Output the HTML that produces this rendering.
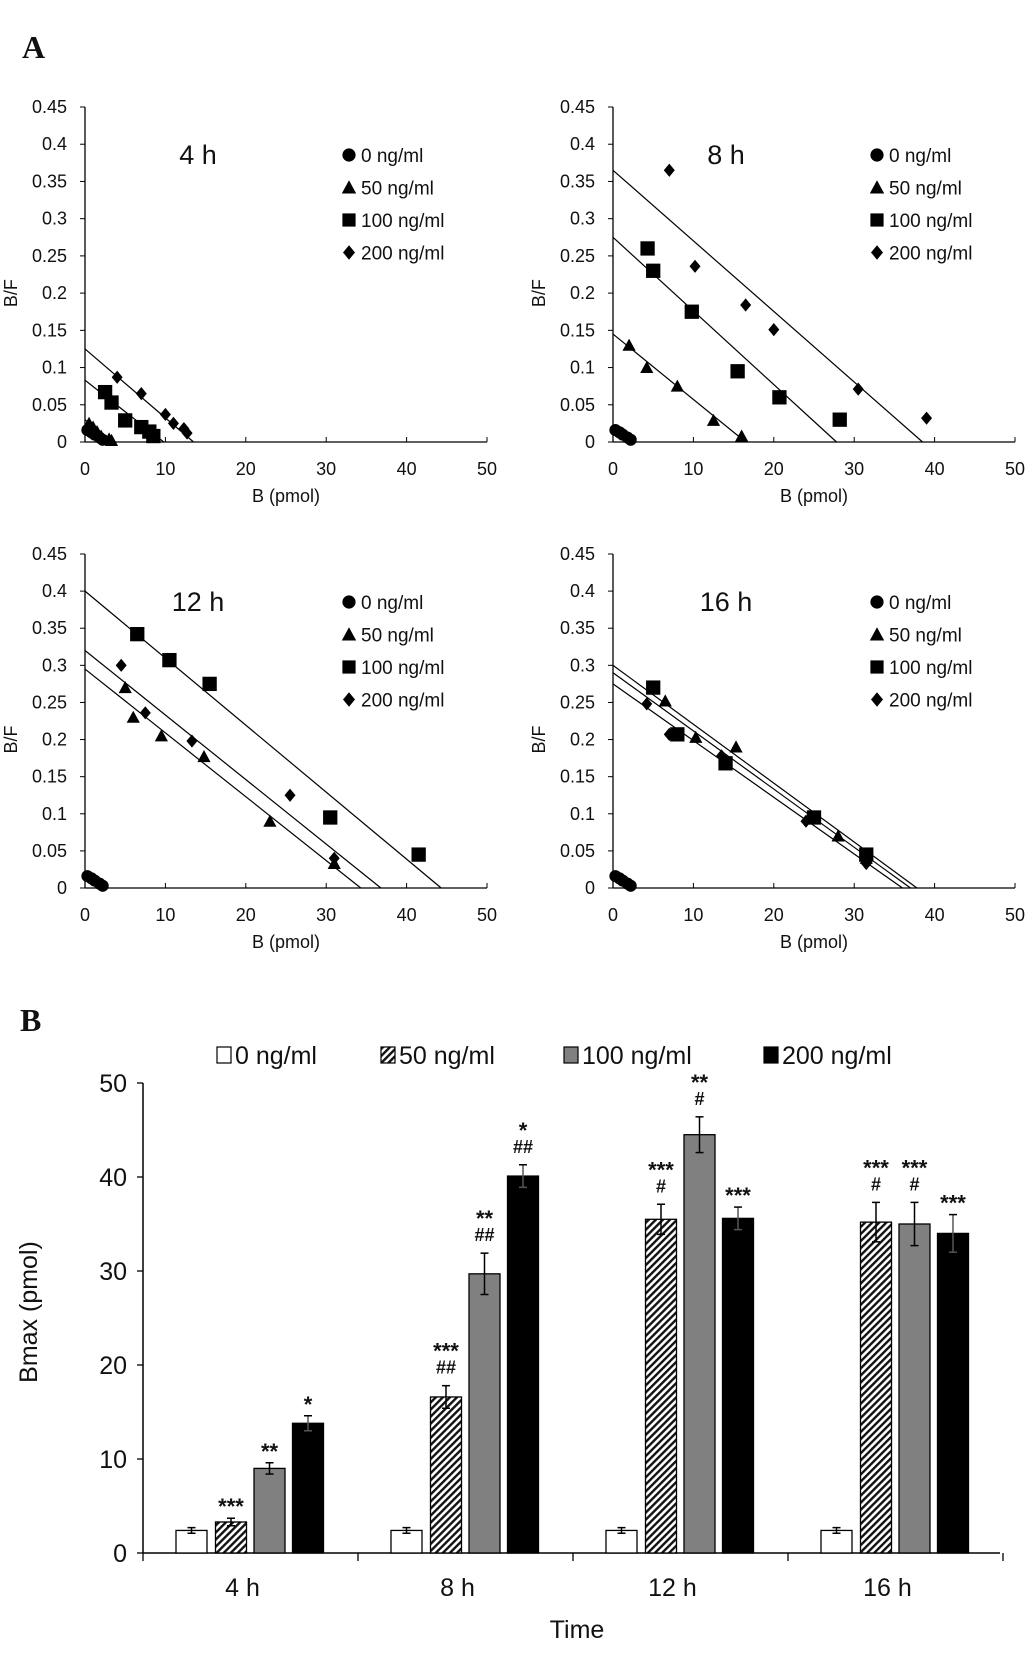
<!DOCTYPE html>
<html><head><meta charset="utf-8"><style>
html,body{margin:0;padding:0;background:#fff}
svg{display:block}
text{font-family:"Liberation Sans",Arial,sans-serif;fill:#111}
</style></head><body>
<svg id="fig" width="1033" height="1655" viewBox="0 0 1033 1655" xmlns="http://www.w3.org/2000/svg">
<defs>
<pattern id="hatch" patternUnits="userSpaceOnUse" width="5" height="5" patternTransform="rotate(45)">
<rect width="5" height="5" fill="#fff"/><rect width="2.4" height="5" fill="#111"/>
</pattern>
</defs>
<text x="22" y="58" style="font-family:'Liberation Serif',serif;font-weight:bold;font-size:32px">A</text>
<text x="20" y="1031" style="font-family:'Liberation Serif',serif;font-weight:bold;font-size:32px">B</text>
<g id="scatters"></g>
<g id="bars"></g>
</svg>
<script>
// ---------- Scatchard panels data ----------
const panelTitles = ["4 h","8 h","12 h","16 h"];
const seriesNames = ["0 ng/ml","50 ng/ml","100 ng/ml","200 ng/ml"];
const xTicks = [0,10,20,30,40,50];
const yTicks = [0,0.05,0.1,0.15,0.2,0.25,0.3,0.35,0.4,0.45];
const yTickLabels = ["0","0.05","0.1","0.15","0.2","0.25","0.3","0.35","0.4","0.45"];
// points per panel per series: [B, B/F]
const circlePts = [[0.3,0.016],[0.8,0.013],[1.2,0.01],[1.8,0.006],[2.2,0.003]];
const pts4h = [circlePts,
  [[0.5,0.025],[1,0.02],[1.5,0.014],[2,0.008],[3,0.004],[3.3,0.002]],
  [[2.5,0.067],[3.3,0.053],[5,0.029],[7,0.02],[8,0.014],[8.5,0.008]],
  [[4,0.087],[7,0.065],[10,0.037],[11,0.025],[12.3,0.018],[12.7,0.012]]];
const pts8h = [circlePts,
  [[2,0.13],[4.2,0.1],[8,0.075],[12.5,0.029],[16,0.008]],
  [[4.3,0.26],[5,0.23],[9.8,0.175],[15.5,0.095],[20.7,0.06],[28.2,0.03]],
  [[7,0.365],[10.2,0.236],[16.5,0.184],[20,0.151],[30.5,0.071],[39,0.032]]];
const pts12h = [circlePts,
  [[5,0.27],[6,0.23],[9.5,0.205],[14.8,0.177],[23,0.09],[31,0.033]],
  [[6.5,0.342],[10.5,0.307],[15.5,0.275],[30.5,0.095],[41.5,0.045]],
  [[4.5,0.3],[7.5,0.236],[13.3,0.198],[25.5,0.125],[31,0.04]]];
const pts16h = [circlePts,
  [[6.5,0.252],[10.3,0.203],[15.3,0.19],[28,0.07],[31.5,0.04]],
  [[5,0.27],[8,0.207],[14,0.168],[25,0.095],[31.5,0.045]],
  [[4.2,0.248],[7,0.207],[13.5,0.178],[24,0.09],[31.5,0.033]]];
const panelPoints = [pts4h, pts8h, pts12h, pts16h];
// regression lines: [y-intercept, x-intercept] per series (null = none)
const lines4h = [null,[0.03,3.5],[0.083,9.8],[0.125,13.5]];
const lines8h = [null,[0.145,16.5],[0.275,27.8],[0.365,38.5]];
const lines12h = [null,[0.295,34.3],[0.4,44.3],[0.32,36.8]];
const lines16h = [null,[0.29,37],[0.3,37.8],[0.275,36]];
const panelLines = [lines4h, lines8h, lines12h, lines16h];

// ---------- Bar chart data ----------
const timeCats = ["4 h","8 h","12 h","16 h"];
const barVals0 = [2.4,2.4,2.4,2.4];
const barVals50 = [3.3,16.6,35.5,35.2];
const barVals100 = [9.0,29.7,44.5,35.0];
const barVals200 = [13.8,40.1,35.6,34.0];
const barErr0 = [0.3,0.3,0.3,0.3];
const barErr50 = [0.4,1.2,1.6,2.1];
const barErr100 = [0.6,2.2,1.9,2.3];
const barErr200 = [0.8,1.2,1.2,2.0];
const ann50 = [["***"],["***","##"],["***","#"],["***","#"]];
const ann100 = [["**"],["**","##"],["**","#"],["***","#"]];
const ann200 = [["*"],["*","##"],["***"],["***"]];
const barTicks = [0,10,20,30,40,50];

const NS="http://www.w3.org/2000/svg";
function mk(tag, attrs, parent, txt){
  const e=document.createElementNS(NS,tag);
  for(const k in attrs) e.setAttribute(k,attrs[k]);
  if(txt!==undefined) e.textContent=txt;
  parent.appendChild(e); return e;
}
const sc=document.getElementById('scatters');
const origins=[[85,442,107],[613,442,107],[85,888,554],[613,888,554]];
function marker(g,type,cx,cy,s){
  let e;
  if(type===0){ e=mk('circle',{cx:cx,cy:cy,r:s*0.55,fill:'#000'},g); }
  else if(type===1){ e=mk('polygon',{points:`${cx},${cy-s*0.6} ${cx+s*0.6},${cy+s*0.5} ${cx-s*0.6},${cy+s*0.5}`,fill:'#000'},g); }
  else if(type===2){ e=mk('rect',{x:cx-s*0.55,y:cy-s*0.55,width:s*1.1,height:s*1.1,fill:'#000'},g); }
  else { e=mk('polygon',{points:`${cx},${cy-s*0.6} ${cx+s*0.5},${cy} ${cx},${cy+s*0.6} ${cx-s*0.5},${cy}`,fill:'#000'},g); }
  return e;
}
panelTitles.forEach((title,p)=>{
  const [x0,y0,yTop]=origins[p];
  const xEnd=x0+402;
  const xs=v=>x0+v*(xEnd-x0)/50;
  const ys=v=>y0-v*(y0-yTop)/0.45;
  const g=mk('g',{},sc);
  
  
  const ya=mk('line',{x1:x0,y1:yTop,x2:x0,y2:y0,stroke:'#000','stroke-width':1.3},g);
   
  const xa=mk('line',{x1:x0,y1:y0,x2:xEnd,y2:y0,stroke:'#000','stroke-width':1.3},g);
   
  yTicks.forEach((t,i)=>{
    mk('line',{x1:x0-5,y1:ys(t),x2:x0,y2:ys(t),stroke:'#000'},g);
    const tl=mk('text',{x:x0-18,y:ys(t)+6,'text-anchor':'end','font-size':18,fill:'#333'},g,yTickLabels[i]);
     
  });
  xTicks.forEach(t=>{
    mk('line',{x1:xs(t),y1:y0-5,x2:xs(t),y2:y0,stroke:'#000'},g);
    const tl=mk('text',{x:xs(t),y:y0+33,'text-anchor':'middle','font-size':18,fill:'#333'},g,String(t));
     
  });
  const xt=mk('text',{x:x0+201,y:y0+60,'text-anchor':'middle','font-size':18,fill:'#333'},g,'B (pmol)');
   
  const yt=mk('text',{x:0,y:0,'text-anchor':'middle','font-size':18,fill:'#333',transform:`translate(${x0-68},${ys(0.2)}) rotate(-90)`},g,'B/F');
   
  const tt=mk('text',{x:x0+113,y:yTop+57,'text-anchor':'middle','font-size':27,fill:'#222'},g,title);
   
  seriesNames.forEach((n,i)=>{
    const ly=yTop+48+i*32.5;
    const m=marker(g,i,x0+264,ly,12);
     
    const lt=mk('text',{x:x0+276,y:ly+7,'font-size':19,fill:'#222'},g,n);
     
  });
  panelLines[p].forEach((ln,i)=>{
    if(!ln) return;
    const l=mk('line',{x1:xs(0),y1:ys(ln[0]),x2:xs(ln[1]),y2:ys(0),stroke:'#000','stroke-width':1.2},g);
     
  });
  panelPoints[p].forEach((ser,i)=>{
    ser.forEach(pt=>{
      const m=marker(g,i,xs(pt[0]),ys(pt[1]),i===2?13:11);
       
    });
  });
});

// ---------- Bar chart ----------
const bg=document.getElementById('bars');
const ax0=143, by0=1553, byTop=1083, axEnd=1000;
const groupW=215;
const bys=v=>by0-v*(by0-byTop)/50;
const yaB=mk('line',{x1:ax0,y1:byTop,x2:ax0,y2:by0,stroke:'#000','stroke-width':1.5},bg);
 
const xaB=mk('line',{x1:ax0,y1:by0,x2:axEnd,y2:by0,stroke:'#000','stroke-width':1.5},bg);
 
barTicks.forEach(t=>{
  mk('line',{x1:ax0-6,y1:bys(t),x2:ax0,y2:bys(t),stroke:'#000','stroke-width':1.3},bg);
  const tl=mk('text',{x:ax0-16,y:bys(t)+9,'text-anchor':'end','font-size':25,fill:'#222'},bg,String(t));
   
});
for(let k=0;k<=timeCats.length;k++){
  mk('line',{x1:ax0+k*groupW,y1:by0,x2:ax0+k*groupW,y2:by0+8,stroke:'#000','stroke-width':1.3},bg);
}
const fills=['#fff','url(#hatch)','#808080','#000'];
const vals=[barVals0,barVals50,barVals100,barVals200];
const errs=[barErr0,barErr50,barErr100,barErr200];
const anns=[null,ann50,ann100,ann200];
const offs=[48.5,88,126.5,165];
const bw=31;
timeCats.forEach((c,gi)=>{
  const gx=ax0+gi*groupW;
  const cl=mk('text',{x:gx+groupW/2-8,y:1596,'text-anchor':'middle','font-size':25,fill:'#222'},bg,c);
   
  for(let s=0;s<4;s++){
    const cx=gx+offs[s], v=vals[s][gi], e=errs[s][gi];
    const r=mk('rect',{x:cx-bw/2,y:bys(v),width:bw,height:by0-bys(v),fill:fills[s],stroke:'#000','stroke-width':1.3},bg);
     
    const col = s===3?'#000':'#000';
    mk('line',{x1:cx,y1:bys(v+e),x2:cx,y2:bys(v-e),stroke:s===3?'#555':'#000','stroke-width':1.5},bg);
    mk('line',{x1:cx-4,y1:bys(v+e),x2:cx+4,y2:bys(v+e),stroke:'#000','stroke-width':1.5},bg);
    mk('line',{x1:cx-4,y1:bys(v-e),x2:cx+4,y2:bys(v-e),stroke:s===3?'#555':'#000','stroke-width':1.5},bg);
    if(anns[s]){
      const lines=anns[s][gi];
      lines.forEach((ln,li)=>{
        const yy=bys(v+e)-12-(lines.length-1-li)*23;
        const at=mk('text',{x:cx,y:yy+(ln.indexOf('*')>=0?8:0),'text-anchor':'middle','font-size':ln.indexOf('*')>=0?22:18,'font-weight':'bold',fill:'#222'},bg,ln);
         
      });
    }
  }
});
const xtB=mk('text',{x:577,y:1638,'text-anchor':'middle','font-size':25,fill:'#222'},bg,'Time');
 
const ytB=mk('text',{x:0,y:0,'text-anchor':'middle','font-size':25,fill:'#222',transform:'translate(37,1312) rotate(-90)'},bg,'Bmax (pmol)');
 
const legX=[217,381,564,764];
seriesNames.forEach((n,i)=>{
  const sw=mk('rect',{x:legX[i],y:1047,width:14,height:16,fill:fills[i],stroke:'#000','stroke-width':1.2},bg);
   
  const t=mk('text',{x:legX[i]+18,y:1064,'font-size':25,fill:'#222'},bg,n);
   
});
</script>
</body></html>
